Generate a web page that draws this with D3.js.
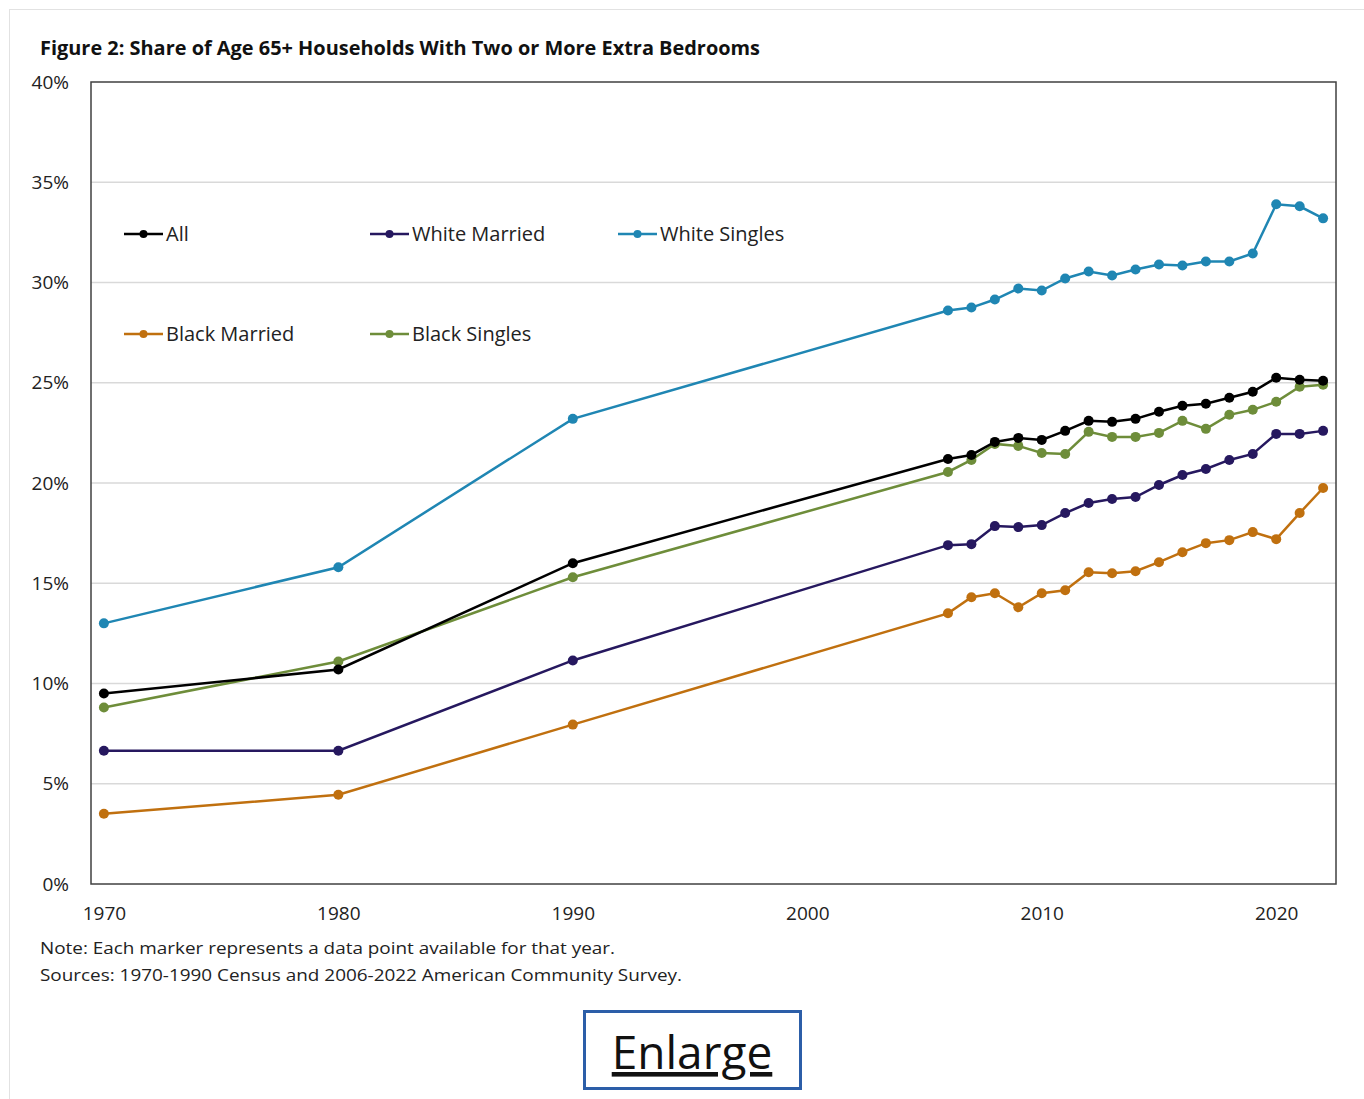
<!DOCTYPE html>
<html>
<head>
<meta charset="utf-8">
<script src="https://cdn.jsdelivr.net/npm/d3@7"></script>
<style>
  body { margin: 0; background: #fff; font-family: "Open Sans", "DejaVu Sans", sans-serif; }
</style>
</head>
<body>
<div id="chart"></div>
<script>
// data (percent)
let years = [1970, 1980, 1990, 2006, 2007, 2008, 2009, 2010, 2011, 2012, 2013, 2014, 2015, 2016, 2017, 2018, 2019, 2020, 2021, 2022];
let allHH = [9.5, 10.7, 16.0, 21.2, 21.4, 22.05, 22.25, 22.15, 22.6, 23.1, 23.05, 23.2, 23.55, 23.85, 23.95, 24.25, 24.55, 25.25, 25.15, 25.1];
let whiteMarried = [6.65, 6.65, 11.15, 16.9, 16.95, 17.85, 17.8, 17.9, 18.5, 19.0, 19.2, 19.3, 19.9, 20.4, 20.7, 21.15, 21.45, 22.45, 22.45, 22.6];
let whiteSingles = [13.0, 15.8, 23.2, 28.6, 28.75, 29.15, 29.7, 29.6, 30.2, 30.55, 30.35, 30.65, 30.9, 30.85, 31.05, 31.05, 31.45, 33.9, 33.8, 33.2];
let blackMarried = [3.5, 4.45, 7.95, 13.5, 14.3, 14.5, 13.8, 14.5, 14.65, 15.55, 15.5, 15.6, 16.05, 16.55, 17.0, 17.15, 17.55, 17.2, 18.5, 19.75];
let blackSingles = [8.8, 11.1, 15.3, 20.55, 21.15, 21.95, 21.85, 21.5, 21.45, 22.55, 22.3, 22.3, 22.5, 23.1, 22.7, 23.4, 23.65, 24.05, 24.8, 24.9];
let yTicks = [0, 5, 10, 15, 20, 25, 30, 35, 40];
let xTicks = [1970, 1980, 1990, 2000, 2010, 2020];

let series = [
	{ name: "All", values: allHH, color: "#000000" },
	{ name: "White Married", values: whiteMarried, color: "#26185f" },
	{ name: "White Singles", values: whiteSingles, color: "#1f86b3" },
	{ name: "Black Married", values: blackMarried, color: "#c0700f" },
	{ name: "Black Singles", values: blackSingles, color: "#6e8d3a" },
];
// draw order as in the figure
let drawOrder = [3, 1, 4, 0, 2];

var w = 1364,
	h = 1099;

let svg = d3
	.select("#chart")
	.append("svg")
	.attr("width", w)
	.attr("height", h);

// faint page frame
svg.append("rect")
	.attr("x", 9.5).attr("y", 9.5)
	.attr("width", w).attr("height", h)
	.attr("fill", "none")
	.attr("stroke", "#e2e2e2");

let plotLeft = 91, plotRight = 1336, plotTop = 82, plotBottom = 884;

let x = d3.scaleLinear().domain([1969.45, 2022.55]).range([plotLeft, plotRight]);
let y = d3.scaleLinear().domain([0, 40]).range([plotBottom, plotTop]);

// title
svg.append("text")
	.attr("x", 40)
	.attr("y", 55)
	.attr("font-size", 19)
	.attr("font-weight", "bold")
	.attr("fill", "#111")
	.attr("textLength", 720)
	.attr("lengthAdjust", "spacingAndGlyphs")
	.text("Figure 2: Share of Age 65+ Households With Two or More Extra Bedrooms");

// gridlines
svg.append("g")
	.selectAll("line")
	.data(yTicks.filter((d) => d > 0 && d < 40))
	.enter()
	.append("line")
	.attr("x1", plotLeft)
	.attr("x2", plotRight)
	.attr("y1", (d) => y(d))
	.attr("y2", (d) => y(d))
	.attr("stroke", "#d9d9d9")
	.attr("stroke-width", 1.5);

// y axis labels
let yAxis = d3.axisLeft(y).tickValues(yTicks).tickSize(0).tickPadding(22).tickFormat((d) => d + "%");
svg.append("g")
	.attr("transform", "translate(" + plotLeft + ",0)")
	.call(yAxis)
	.call((g) => g.select(".domain").remove())
	.selectAll("text")
	.attr("font-size", 19)
	.attr("font-family", "'Open Sans', sans-serif")
	.attr("fill", "#222");

// x axis labels
let xAxis = d3.axisBottom(x).tickValues(xTicks).tickSize(0).tickPadding(23).tickFormat(d3.format("d"));
svg.append("g")
	.attr("transform", "translate(0," + plotBottom + ")")
	.call(xAxis)
	.call((g) => g.select(".domain").remove())
	.selectAll("text")
	.attr("font-size", 19)
	.attr("font-family", "'Open Sans', sans-serif")
	.attr("fill", "#222");

// plot frame
svg.append("rect")
	.attr("x", plotLeft)
	.attr("y", plotTop)
	.attr("width", plotRight - plotLeft)
	.attr("height", plotBottom - plotTop)
	.attr("fill", "none")
	.attr("stroke", "#404040")
	.attr("stroke-width", 1.5);

let line = d3
	.line()
	.x((d, i) => x(years[i]))
	.y((d) => y(d));

drawOrder.forEach((k) => {
	let s = series[k];
	let g = svg.append("g");
	g.append("path")
		.datum(s.values)
		.attr("d", line)
		.attr("fill", "none")
		.attr("stroke", s.color)
		.attr("stroke-width", 2.5);
	g.selectAll("circle")
		.data(s.values)
		.enter()
		.append("circle")
		.attr("cx", (d, i) => x(years[i]))
		.attr("cy", (d) => y(d))
		.attr("r", 5)
		.attr("fill", s.color);
});

// legend
let legendPos = [
	[124, 234],
	[370, 234],
	[618, 234],
	[124, 334],
	[370, 334],
];
let legend = svg.append("g").attr("id", "legend");
series.forEach((s, i) => {
	let p = legendPos[i];
	legend.append("line")
		.attr("x1", p[0]).attr("x2", p[0] + 39)
		.attr("y1", p[1]).attr("y2", p[1])
		.attr("stroke", s.color)
		.attr("stroke-width", 2.5);
	legend.append("circle")
		.attr("cx", p[0] + 19.5).attr("cy", p[1])
		.attr("r", 4)
		.attr("fill", s.color);
	legend.append("text")
		.attr("x", p[0] + 42)
		.attr("y", p[1] + 7)
		.attr("font-size", 20)
		.attr("fill", "#222")
		.text(s.name);
});

// notes
svg.append("text")
	.attr("x", 40)
	.attr("y", 954)
	.attr("font-size", 17)
	.attr("fill", "#222")
	.attr("textLength", 575)
	.attr("lengthAdjust", "spacingAndGlyphs")
	.text("Note: Each marker represents a data point available for that year.");
svg.append("text")
	.attr("x", 40)
	.attr("y", 981)
	.attr("font-size", 17)
	.attr("fill", "#222")
	.attr("textLength", 642)
	.attr("lengthAdjust", "spacingAndGlyphs")
	.text("Sources: 1970-1990  Census and 2006-2022  American Community Survey.");

// enlarge button
svg.append("rect")
	.attr("x", 584.5)
	.attr("y", 1011.5)
	.attr("width", 216)
	.attr("height", 77)
	.attr("fill", "#fff")
	.attr("stroke", "#2c5ea8")
	.attr("stroke-width", 3);
svg.append("text")
	.attr("x", 692)
	.attr("y", 1069)
	.attr("text-anchor", "middle")
	.attr("font-size", 46)
	.attr("fill", "#111")
	.attr("text-decoration", "underline")
	.text("Enlarge");
</script>
</body>
</html>
